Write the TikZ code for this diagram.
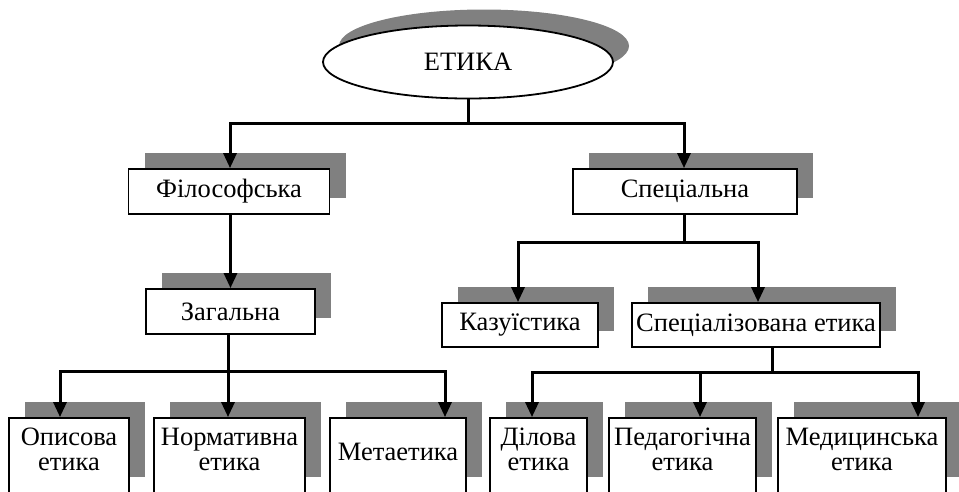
\documentclass[tikz,border=0pt]{standalone}
\usepackage{fontspec}
\setmainfont{Liberation Serif}
\usetikzlibrary{arrows.meta,shapes.geometric,shadows}
\definecolor{shgray}{RGB}{128,128,128}
\begin{document}
\begin{tikzpicture}[x=1pt,y=-1pt,
  >={Triangle[length=15pt,width=13pt]},
  txt/.style={font=\fontsize{26.5}{25}\selectfont},
  shd/.style={general shadow={fill=shgray, shadow xshift=16pt, shadow yshift=16pt}},
  box/.style={draw=black, line width=1.8pt, fill=white, inner sep=0pt, align=center, txt, shd},
  twoline/.style={text height=43pt, text depth=14pt},
  oneline/.style={text height=18pt, text depth=9pt},
  conn/.style={line width=3pt, line join=miter}
]
\useasboundingbox (0,0) rectangle (959,491);

% root
\node[draw=black, line width=1.8pt, fill=white, ellipse, minimum width=290pt, minimum height=73pt, txt, shd] (e) at (468,62) {ЕТИКА};

% level 1
\node[box, minimum width=201pt, minimum height=45pt] (fil) at (229,191.5) {Філософська};
\node[box, minimum width=224pt, minimum height=45pt] (spec) at (685,191.5) {Спеціальна};

% level 2
\node[box, minimum width=169pt, minimum height=45pt] (zag) at (230.5,311.5) {Загальна};
\node[box, minimum width=156pt, minimum height=44pt] (kaz) at (520,325) {Казуїстика};
\node[box, minimum width=248pt, minimum height=44pt] (spz) at (756,325) {Спеціалізована етика};

% level 3
\node[box, minimum width=120pt, minimum height=75pt, twoline] (opy) at (69,455.5) {Описова\\етика};
\node[box, minimum width=151pt, minimum height=75pt, twoline] (nor) at (229.5,455.5) {Нормативна\\етика};
\node[box, minimum width=136pt, minimum height=75pt, oneline] (met) at (398,455.5) {Метаетика};
\node[box, minimum width=97pt, minimum height=75pt, twoline] (dil) at (538.5,455.5) {Ділова\\етика};
\node[box, minimum width=147pt, minimum height=75pt, twoline] (ped) at (682.5,455.5) {Педагогічна\\етика};
\node[box, minimum width=168pt, minimum height=75pt, twoline] (med) at (862,455.5) {Медицинська\\етика};

% junction coordinates
\coordinate (a1) at (230,123);
\coordinate (a2) at (684,123);
\coordinate (b1) at (518,242);
\coordinate (b2) at (758,242);
\coordinate (c1) at (60,371);
\coordinate (c2) at (228,371);
\coordinate (c3) at (445,371);
\coordinate (d1) at (532,372);
\coordinate (d2) at (700,372);
\coordinate (d3) at (918,372);
\coordinate (ds) at (772,372);

% connectors
\draw[conn] (e.south) -- (e.south |- a1);
\draw[conn, <->] (a1 |- fil.north) -- (a1) -- (a2) -- (a2 |- spec.north);

\draw[conn, ->] (fil.south -| zag.north) -- (zag.north);

\draw[conn] (spec.south -| a2) -- (a2 |- b1);
\draw[conn, <->] (b1 |- kaz.north) -- (b1) -- (b2) -- (b2 |- spz.north);

\draw[conn] (zag.south -| c2) -- (c2);
\draw[conn, <->] (c1 |- opy.north) -- (c1) -- (c3) -- (c3 |- met.north);
\draw[conn, ->] (c2) -- (c2 |- nor.north);

\draw[conn] (spz.south -| ds) -- (ds);
\draw[conn, <->] (d1 |- dil.north) -- (d1) -- (d3) -- (d3 |- med.north);
\draw[conn, ->] (d2) -- (d2 |- ped.north);
\end{tikzpicture}
\end{document}
